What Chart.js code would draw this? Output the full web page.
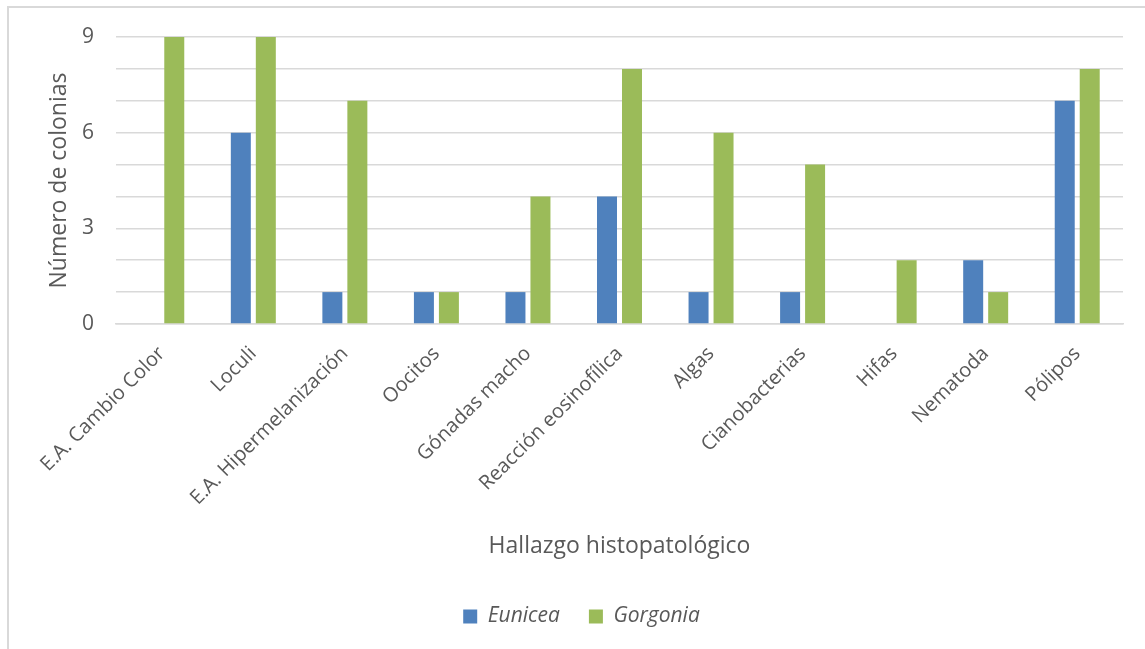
<!DOCTYPE html>
<html>
<head>
<meta charset="utf-8">
<script src="https://cdn.jsdelivr.net/npm/chart.js@4/dist/chart.umd.min.js"></script>
<style>
    html, body { margin: 0; padding: 0; background: #fff; }
    #wrap { position: relative; width: 1145px; height: 649px; overflow: hidden; }
    #frame {
        position: absolute; left: 7px; top: 6px; width: 1200px; height: 700px;
        border-left: 2px solid #d9d9d9; border-top: 2px solid #d9d9d9;
    }
    canvas { position: absolute; left: 0; top: 0; }
</style>
</head>
<body>
<div id="wrap">
    <div id="frame"></div>
    <canvas id="chart" width="1145" height="649"></canvas>
</div>
<script>
// --- data ---
const hallazgos = [
    'E.A. Cambio Color', 'Loculi', 'E.A. Hipermelanización', 'Oocitos', 'Gónadas macho',
    'Reacción eosinofílica', 'Algas', 'Cianobacterias', 'Hifas', 'Nematoda', 'Pólipos'
];
const eunicea = [0, 6, 1, 1, 1, 4, 1, 1, 0, 2, 7];
const gorgonia = [9, 9, 7, 1, 4, 8, 6, 5, 2, 1, 8];
const yLabels = [0, 3, 6, 9];

const textColor = '#595959';
const gridColor = '#d9d9d9';
const fontFamily = '"Open Sans", "Noto Sans", sans-serif';

const ctx = document.getElementById('chart').getContext('2d');

new Chart(ctx, {
    type: 'bar',
    data: {
        labels: hallazgos,
        datasets: [
            {
                label: 'Eunicea',
                data: eunicea,
                backgroundColor: '#4f81bd',
                barPercentage: 0.8,
                categoryPercentage: 0.546
            },
            {
                label: 'Gorgonia',
                data: gorgonia,
                backgroundColor: '#9bbb59',
                barPercentage: 0.8,
                categoryPercentage: 0.546
            }
        ]
    },
    options: {
        responsive: false,
        animation: false,
        layout: { padding: { top: 37, left: 40, right: 22, bottom: 12 } },
        plugins: {
            tooltip: { enabled: false },
            legend: {
                position: 'bottom',
                labels: {
                    boxWidth: 14,
                    boxHeight: 14,
                    padding: 29,
                    color: textColor,
                    font: { family: fontFamily, size: 21, style: 'italic' }
                }
            }
        },
        scales: {
            x: {
                grid: { display: false },
                border: { color: gridColor, width: 1.5 },
                ticks: {
                    minRotation: 45,
                    maxRotation: 45,
                    color: textColor,
                    padding: 10,
                    font: { family: fontFamily, size: 20 }
                },
                title: {
                    display: true,
                    text: 'Hallazgo histopatológico',
                    color: textColor,
                    padding: { top: 0, bottom: 17 },
                    font: { family: fontFamily, size: 23 }
                },
                afterFit: (axis) => { axis.height = 253; }
            },
            y: {
                min: 0,
                max: 9,
                grid: { color: gridColor, lineWidth: 1.5, drawTicks: false },
                border: { display: false },
                ticks: {
                    stepSize: 1,
                    padding: 22,
                    color: textColor,
                    font: { family: fontFamily, size: 21 },
                    // only every third gridline carries a number
                    callback: (v) => yLabels.includes(v) ? v : ''
                },
                title: {
                    display: true,
                    text: 'Número de colonias',
                    color: textColor,
                    padding: { top: 6, bottom: 0 },
                    font: { family: fontFamily, size: 23 }
                },
                afterFit: (axis) => { axis.width = 76; }
            }
        }
    }
});
</script>
</body>
</html>
